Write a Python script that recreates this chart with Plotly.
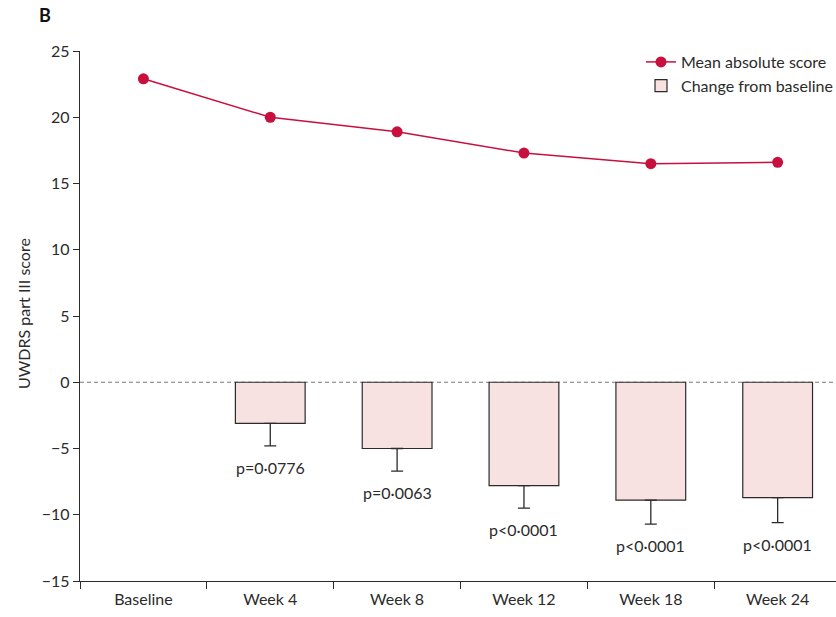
import plotly.graph_objects as go

# Visits and scores
visits = ["Baseline", "Week 4", "Week 8", "Week 12", "Week 18", "Week 24"]
mean_score = [22.9, 20.0, 18.9, 17.3, 16.5, 16.6]

change_visits = ["Week 4", "Week 8", "Week 12", "Week 18", "Week 24"]
change_from_baseline = [-3.1, -5.0, -7.8, -8.9, -8.7]
change_error = [1.7, 1.7, 1.7, 1.8, 1.9]
p_values = ["p=0·0776", "p=0·0063", "p<0·0001", "p<0·0001", "p<0·0001"]

y_ticks = [-15, -10, -5, 0, 5, 10, 15, 20, 25]

FONT = "Lato, 'Open Sans', 'DejaVu Sans', sans-serif"
RED = "#c8103e"
INK = "#2b2b2b"

fig = go.Figure()

fig.add_trace(go.Scatter(
    x=visits, y=mean_score, name="Mean absolute score",
    mode="lines+markers",
    line=dict(color=RED, width=1.5),
    marker=dict(color=RED, size=11),
))

fig.add_trace(go.Bar(
    x=change_visits, y=change_from_baseline, name="Change from baseline",
    width=0.55,
    marker=dict(color="#f7e1e1", line=dict(color=INK, width=1.2)),
    error_y=dict(type="data", symmetric=False,
                 array=[0] * len(change_error), arrayminus=change_error,
                 color=INK, thickness=1.3, width=6),
))

# p-value labels under each error bar
for v, val, err, p in zip(change_visits, change_from_baseline, change_error, p_values):
    fig.add_annotation(x=v, y=val - err, text=p, showarrow=False,
                       yanchor="top", yshift=-10,
                       font=dict(family=FONT, size=16, color=INK))

# dashed zero reference line
fig.add_shape(type="line", xref="paper", yref="y", x0=0, x1=1, y0=0, y1=0,
              line=dict(color="#7a7a7a", width=1, dash="4px,3px"), layer="below")

fig.add_annotation(xref="paper", yref="paper", x=(23 - 80) / 756, y=(581 - 314) / 530,
                   text="UWDRS part III score", textangle=-90, showarrow=False,
                   xanchor="center", yanchor="middle",
                   font=dict(family=FONT, size=16, color=INK))

fig.add_annotation(xref="paper", yref="paper", x=(45 - 80) / 756, y=(581 - 15) / 530,
                   text="<b>B</b>", showarrow=False, xanchor="center", yanchor="middle",
                   font=dict(family=FONT, size=18, color="#111"))

fig.update_layout(
    width=836, height=617,
    margin=dict(l=80, r=0, t=51, b=36, autoexpand=False),
    paper_bgcolor="white", plot_bgcolor="white",
    font=dict(family=FONT, size=16, color=INK),
    showlegend=True,
    legend=dict(x=(641 - 80) / 756, y=(581 - 45) / 530, xanchor="left", yanchor="top",
                bgcolor="rgba(0,0,0,0)", font=dict(family=FONT, size=16, color=INK),
                tracegroupgap=0, itemwidth=30),
    xaxis=dict(
        type="category", categoryorder="array", categoryarray=visits,
        range=[-0.5, 5.46], showline=True, linecolor=INK, linewidth=1.3,
        ticks="outside", tickson="boundaries", ticklen=7, tickcolor=INK,
        showgrid=False, zeroline=False, ticklabelstandoff=4,
        tickfont=dict(family=FONT, size=16, color=INK),
    ),
    yaxis=dict(
        range=[-15, 25], tickvals=y_ticks, showline=True, linecolor=INK, linewidth=1.3,
        ticks="outside", ticklen=6, tickcolor=INK,
        showgrid=False, zeroline=False,
        tickfont=dict(family=FONT, size=16, color=INK),
    ),
)

fig.write_html("out.html")
